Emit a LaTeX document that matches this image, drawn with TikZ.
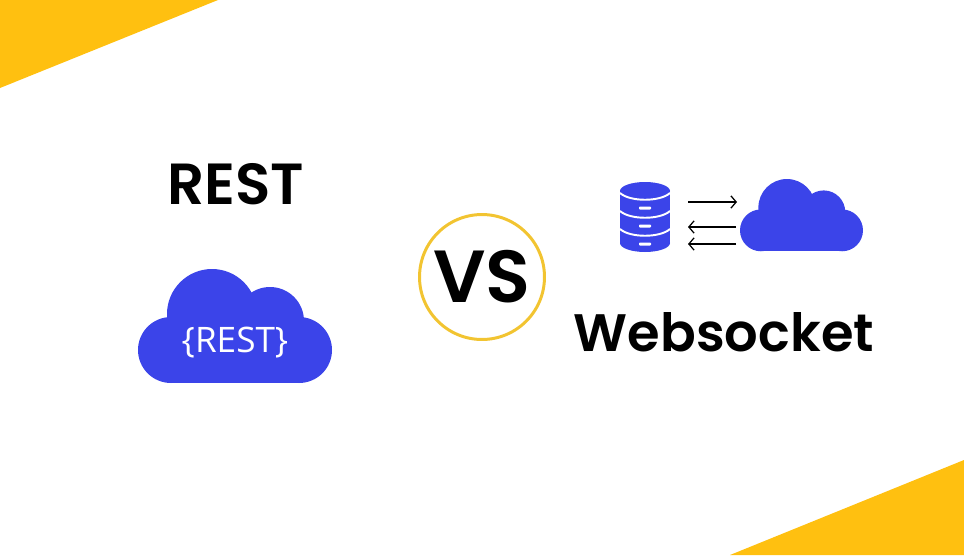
\documentclass[tikz,border=0pt]{standalone}
\usepackage{fontspec}
\usetikzlibrary{arrows.meta}
\setmainfont{Poppins}[BoldFont=Poppins SemiBold]
\newfontfamily\cloudfont{Open Sans}
\definecolor{cornerYellow}{HTML}{FFC010}
\definecolor{ringYellow}{HTML}{F2C431}
\definecolor{cloudBlue}{HTML}{3B44E9}
\tikzset{
  title/.style={font=\bfseries\fontsize{33}{36}\selectfont, text=black, inner sep=0pt},
  cloudlabel/.style={font=\cloudfont\fontsize{20}{24}\selectfont, text=white, inner sep=0pt},
  pics/cloud/.style={code={
    \fill[cloudBlue] (33, 81) circle (33) ;
    \fill[cloudBlue] (161, 81) circle (33) ;
    \fill[cloudBlue] (74, 45) circle (45) ;
    \fill[cloudBlue] (132, 52) circle (34) ;
    \fill[cloudBlue] (33, 50) rectangle (161, 114) ;
  }},
  gap/.style={draw=white, line width=1.1pt},
  flow/.style={line width=.7pt, -{Straight Barb[length=3pt, width=7pt]}}
}
\begin{document}
\begin{tikzpicture}[x=.02cm, y=-.02cm]
  \useasboundingbox (0, 0) rectangle (964, 555) ;
  % corners
  \fill[cornerYellow] (0, 0) -- (218, 0) -- (0, 88) -- cycle ;
  \fill[cornerYellow] (964, 460) -- (964, 555) -- (730, 555) -- cycle ;
  % left side
  \node[title] (resttitle) at (235.5, 184) {REST} ;
  \pic at (138, 269) {cloud} ;
  \node[cloudlabel] (restlabel) at (235, 342.5) {\{REST\}} ;
  % middle
  \node[circle, draw=ringYellow, line width=1.7pt, minimum size=2.5cm, inner sep=0pt,
    font=\bfseries\fontsize{42}{48}\selectfont] (vs) at (482, 277) {VS} ;
  % database
  \fill[cloudBlue] (620, 191) rectangle (670, 243) ;
  \fill[cloudBlue] (645, 243) ellipse (25 and 9) ;
  \fill[cloudBlue] (645, 191) ellipse (25 and 9) ;
  \draw[gap] (620, 193) .. controls (630, 202) and (660, 202) .. (670, 193) ;
  \draw[gap] (620, 211) .. controls (630, 220) and (660, 220) .. (670, 211) ;
  \draw[gap] (620, 229) .. controls (630, 238) and (660, 238) .. (670, 229) ;
  \fill[white, rounded corners=.5pt] (639, 206.5) rectangle (651, 209.5) ;
  \fill[white, rounded corners=.5pt] (639, 224.5) rectangle (651, 227.5) ;
  \fill[white, rounded corners=.5pt] (639, 242.5) rectangle (651, 245.5) ;
  % arrows
  \coordinate (dbtop) at (688, 202) ;
  \coordinate (cloudtop) at (737, 202) ;
  \coordinate (dbmid) at (688, 227) ;
  \coordinate (cloudmid) at (736, 227) ;
  \coordinate (dblow) at (688, 244) ;
  \coordinate (cloudlow) at (736, 244) ;
  \draw[flow] (dbtop) -- (cloudtop) ;
  \draw[flow] (cloudmid) -- (dbmid) ;
  \draw[flow] (cloudlow) -- (dblow) ;
  \pic[scale=.634] at (740, 179) {cloud} ;
  \node[title, font=\bfseries\fontsize{30}{36}\selectfont] (wstitle) at (724, 332) {Websocket} ;
\end{tikzpicture}
\end{document}
